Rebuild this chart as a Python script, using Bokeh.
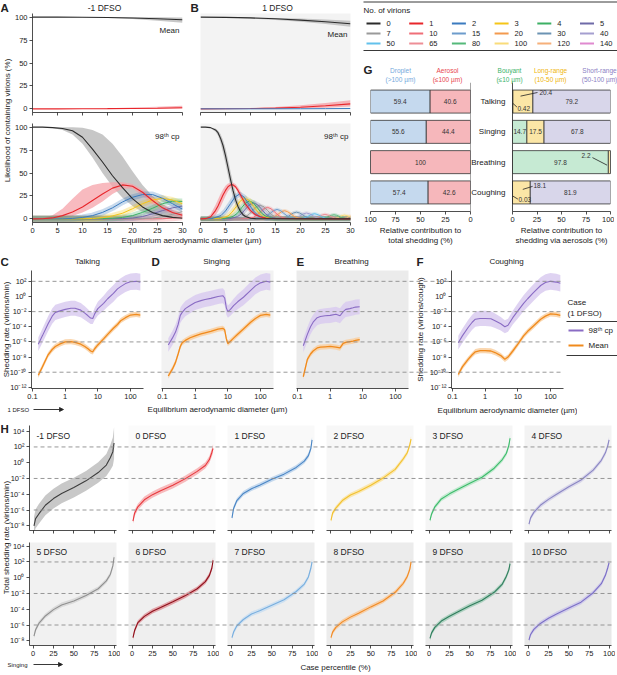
import numpy as np
from math import pi
from bokeh.plotting import figure
from bokeh.models import (Range1d, FactorRange, FixedTicker, CustomJSTickFormatter,
                          Span, Label, Arrow, NormalHead, ColumnDataSource)
from bokeh.embed import file_html
from bokeh.resources import INLINE
from bokeh.core.properties import value

FONT = "Liberation Sans"
INK = "#222222"

# ============================ DATA ============================
# ---- legend: number of virions
virion_counts = [0, 1, 2, 3, 4, 5, 7, 10, 15, 20, 30, 40, 50, 65, 80, 100, 120, 140]
virion_colors = ["#2b2b2b", "#e8262b", "#3b7bbf", "#f5c518", "#3cb064", "#6f6aa8",
                 "#9a9a9a", "#ef6f78", "#6d9ccc", "#f39a4e", "#6c93b3", "#a59fd0",
                 "#62c1ec", "#ee8f97", "#55b97a", "#f9dc7a", "#f6b07a", "#e08ad0"]

# ---- A/B  Mean case: likelihood (%) vs diameter (um)
mean_diam = [0, 5, 10, 15, 20, 25, 30]
a_mean_n0 = [100, 100, 99.9, 99.6, 99.1, 98.3, 97.2]
a_mean_n0_lo = [100, 99.9, 99.6, 99.0, 97.9, 96.2, 94.0]
a_mean_n0_hi = [100, 100, 100, 100, 99.9, 99.8, 99.6]
a_mean_n1 = [0, 0, 0.05, 0.2, 0.4, 0.7, 1.2]
a_mean_n1_lo = [0, 0, 0, 0.05, 0.1, 0.2, 0.4]
a_mean_n1_hi = [0, 0.05, 0.3, 0.7, 1.4, 2.4, 3.5]
b_mean_n0 = [100, 99.8, 99.2, 98.3, 96.8, 95.0, 92.8]
b_mean_n0_lo = [100, 99.6, 98.6, 97.0, 95.0, 92.5, 89.5]
b_mean_n0_hi = [100, 100, 99.7, 99.2, 98.5, 97.5, 96.0]
b_mean_n1 = [0, 0.05, 0.3, 0.8, 1.8, 3.3, 5.4]
b_mean_n1_lo = [0, 0, 0.05, 0.2, 0.6, 1.3, 2.5]
b_mean_n1_hi = [0, 0.2, 0.8, 2.0, 4.0, 6.5, 9.5]
b_mean_n2 = [0, 0, 0, 0.05, 0.1, 0.2, 0.35]

# ---- A  98th cp (-1 DFSO)
a_diam = [0, 2, 4, 6, 8, 10, 12, 14, 16, 18, 20, 22, 24, 26, 28, 30]
a98_n0 = [100, 100, 99.5, 98.5, 96, 89, 76, 62, 47, 34, 22, 13, 7, 3.5, 1.6, 0.7]
a98_n0_lo = [100, 100, 99, 97, 92, 82, 67, 50, 35, 23, 14, 7.5, 3.8, 1.8, 0.8, 0.3]
a98_n0_hi = [100, 100, 100, 100, 100, 99.5, 97, 92, 82, 68, 52, 37, 25, 16, 9, 5]
a98_n1 = [0, 0.1, 1, 3.5, 7.5, 13, 20, 27, 33.5, 37, 35.5, 29, 20, 12, 7, 4]
a98_n1_lo = [0, 0, 0.2, 1, 3, 7, 12, 19, 27, 33, 33, 25, 16, 9, 5, 2.5]
a98_n1_hi = [0, 1, 4, 11, 22, 32, 37, 39, 40, 40, 38, 32, 24, 16, 10, 6.5]
a98_n2 = [0, 0, 0, 0.1, 0.4, 1.5, 3.5, 7, 12, 18.4, 23.5, 26.5, 26.5, 22.4, 16.5, 10.5]
a98_n3 = [0, 0, 0, 0, 0, 0.1, 0.4, 1.2, 3.2, 6.1, 11, 16.5, 20.5, 22.4, 20.5, 16.5]
a98_n4 = [0, 0, 0, 0, 0, 0, 0.1, 0.2, 0.6, 1.5, 3.5, 7, 11.5, 16.5, 19.3, 19]
a98_n5 = [0, 0, 0, 0, 0, 0, 0, 0, 0.1, 0.3, 0.8, 2.5, 5.5, 9, 12, 14]
a98_n7 = [0, 0, 0, 0, 0, 0, 0, 0, 0, 0, 0.1, 0.3, 0.9, 2.2, 5, 8]
a98_n10 = [0, 0, 0, 0, 0, 0, 0, 0, 0, 0, 0, 0, 0, 0.2, 0.7, 1.8]

# ---- B  98th cp (1 DFSO)
b98_n0_x = [0, 1, 2, 3, 3.5, 4, 4.5, 5, 5.5, 6, 6.5, 7, 7.5, 8, 8.5, 9, 10, 11, 30]
b98_n0 = [100, 100, 99.5, 97, 94, 88, 80, 69, 56, 43, 31, 21, 13.5, 8, 4.5, 2.5, 0.7, 0.2, 0]
b98_n0_lo = [100, 100, 99, 95, 91, 83, 72, 60, 47, 34, 23, 14.5, 8.5, 4.5, 2.5, 1.2, 0.3, 0.1, 0]
b98_n0_hi = [100, 100, 100, 98.5, 96.5, 92.5, 86, 77, 65, 52, 40, 29, 20, 13, 8, 5, 1.5, 0.5, 0]
b98_n1_x = [0, 1, 2, 3, 3.5, 4, 4.5, 5, 5.5, 6, 6.5, 7, 7.5, 8, 9, 10, 11, 12, 13, 14, 30]
b98_n1 = [0, 0.2, 2, 9, 14, 20, 26, 31, 35, 37, 37, 35, 31, 26, 16, 9, 4.5, 2, 0.8, 0.3, 0]
b98_n1_lo = [0, 0, 0.5, 4, 8, 13, 19, 25, 30, 33.5, 35, 33, 28, 22, 12, 6, 3, 1.2, 0.4, 0.1, 0]
b98_n1_hi = [0, 0.8, 5, 15, 21, 27, 32, 36, 38.5, 39.5, 39.5, 38, 34.5, 30, 20, 12, 6.5, 3, 1.2, 0.5, 0]
b98_n2_x = [0, 2.3, 4.1, 5.0, 6.0, 6.9, 7.8, 8.7, 9.6, 10.6, 11.5, 13.3, 30]
b98_n2 = [0, 0.27, 3.6, 8.6, 16.5, 23.8, 27, 23.8, 16.5, 8.6, 3.6, 0.27, 0]
b98_n3_x = [0, 3.8, 5.5, 6.3, 7.2, 8.0, 8.9, 9.8, 10.6, 11.5, 12.3, 14.0, 30]
b98_n3 = [0, 0.22, 3.0, 7.2, 13.7, 19.7, 22.4, 19.7, 13.7, 7.2, 3.0, 0.22, 0]
b98_n4_x = [0, 4.9, 6.5, 7.4, 8.2, 9.0, 9.8, 10.6, 11.4, 12.2, 13.1, 14.7, 30]
b98_n4 = [0, 0.2, 2.6, 6.2, 11.9, 17.2, 19.5, 17.2, 11.9, 6.2, 2.6, 0.2, 0]
b98_n5_x = [0, 5.9, 7.4, 8.2, 9.0, 9.8, 10.6, 11.4, 12.2, 13.0, 13.8, 15.3, 30]
b98_n5 = [0, 0.18, 2.4, 5.6, 10.7, 15.4, 17.5, 15.4, 10.7, 5.6, 2.4, 0.18, 0]
b98_n7_x = [0, 7.4, 8.9, 9.7, 10.4, 11.2, 11.9, 12.7, 13.4, 14.2, 14.9, 16.4, 30]
b98_n7 = [0, 0.15, 2.0, 4.8, 9.1, 13.1, 14.9, 13.1, 9.1, 4.8, 2.0, 0.15, 0]
b98_n10_x = [0, 9.2, 10.6, 11.3, 12.0, 12.7, 13.4, 14.1, 14.8, 15.5, 16.2, 17.6, 30]
b98_n10 = [0, 0.13, 1.7, 4.0, 7.6, 11.0, 12.5, 11.0, 7.6, 4.0, 1.7, 0.13, 0]
b98_n15_x = [0, 11.3, 12.7, 13.3, 14.0, 14.6, 15.3, 16.0, 16.6, 17.3, 17.9, 19.3, 30]
b98_n15 = [0, 0.1, 1.4, 3.3, 6.2, 9.0, 10.2, 9.0, 6.2, 3.3, 1.4, 0.1, 0]
b98_n20_x = [0, 13.1, 14.3, 14.9, 15.6, 16.2, 16.8, 17.4, 18.1, 18.7, 19.3, 20.6, 30]
b98_n20 = [0, 0.09, 1.2, 2.8, 5.4, 7.8, 8.9, 7.8, 5.4, 2.8, 1.2, 0.09, 0]
b98_n30_x = [0, 15.7, 16.9, 17.5, 18.0, 18.6, 19.2, 19.8, 20.4, 21.0, 21.5, 22.7, 30]
b98_n30 = [0, 0.07, 1.0, 2.3, 4.5, 6.4, 7.3, 6.4, 4.5, 2.3, 1.0, 0.07, 0]
b98_n40_x = [0, 17.8, 19.0, 19.5, 20.1, 20.6, 21.2, 21.8, 22.3, 22.9, 23.4, 24.6, 30]
b98_n40 = [0, 0.06, 0.85, 2.0, 3.8, 5.5, 6.3, 5.5, 3.8, 2.0, 0.85, 0.06, 0]
b98_n50_x = [0, 19.6, 20.6, 21.2, 21.7, 22.3, 22.8, 23.3, 23.9, 24.4, 25.0, 26.0, 30]
b98_n50 = [0, 0.06, 0.76, 1.8, 3.4, 4.9, 5.6, 4.9, 3.4, 1.8, 0.76, 0.06, 0]
b98_n65_x = [0, 21.8, 22.8, 23.4, 23.9, 24.4, 24.9, 25.4, 25.9, 26.5, 27.0, 28.0, 30]
b98_n65 = [0, 0.05, 0.66, 1.6, 3.0, 4.3, 4.9, 4.3, 3.0, 1.6, 0.66, 0.05, 0]
b98_n80_x = [0, 23.7, 24.7, 25.2, 25.7, 26.2, 26.7, 27.2, 27.7, 28.2, 28.7, 29.7, 30]
b98_n80 = [0, 0.04, 0.6, 1.4, 2.7, 3.9, 4.4, 3.9, 2.7, 1.4, 0.6, 0.04, 0]
b98_n100_x = [0, 25.9, 26.9, 27.4, 27.8, 28.3, 28.8, 29.3, 29.8, 30.2, 30.7]
b98_n100 = [0, 0.04, 0.54, 1.3, 2.4, 3.5, 4.0, 3.5, 2.4, 1.3, 0.54]
b98_n120_x = [0, 27.8, 28.7, 29.2, 29.7, 30.1, 30.6]
b98_n120 = [0, 0.04, 0.49, 1.15, 2.2, 3.2, 3.6]
b98_n140_x = [0, 29.0, 30.0, 30.5]
b98_n140 = [0, 0.1, 0.3, 0.6]

# ---- G  relative contributions (%)
g_acts = ["Talking", "Singing", "Breathing", "Coughing"]
g_droplet = [59.4, 55.6, 0, 57.4]
g_aerosol = [40.6, 44.4, 100, 42.6]
g_buoyant = [0.42, 14.7, 97.8, 0.03]
g_long = [20.4, 17.5, 2.2, 18.1]
g_short = [79.2, 67.8, 0, 81.9]

# ---- C-F  shedding rates, log10(virions per min / per cough) vs diameter (um)
c_diam = [0.15, 0.2, 0.3, 0.4, 0.5, 0.7, 1, 1.5, 2, 3, 4, 5, 6, 7, 8, 10, 15, 20, 30, 40, 50, 70, 100, 150, 200]
c_p98 = [-6.3, -5.2, -3.6, -2.6, -2.1, -1.9, -1.7, -1.55, -1.55, -1.8, -2.2, -2.55, -2.85, -2.9, -2.3, -1.6, -0.9, -0.3, 0.4, 1.0, 1.3, 1.7, 1.95, 2.0, 1.9]
c_p98_sd = [0.9, 0.95, 1.0, 1.0, 1.0, 1.0, 1.0, 1.0, 1.0, 0.95, 0.9, 0.85, 0.8, 0.75, 0.8, 0.9, 1.0, 1.05, 1.1, 1.1, 1.1, 1.1, 1.1, 1.1, 1.1]
c_mean = [-10.4, -9.3, -7.7, -7.0, -6.6, -6.25, -6.0, -5.95, -6.05, -6.3, -6.6, -6.9, -7.2, -7.3, -6.9, -6.4, -5.6, -5.0, -4.2, -3.7, -3.2, -2.8, -2.45, -2.35, -2.45]
c_mean_sd = [0.35, 0.35, 0.35, 0.35, 0.35, 0.35, 0.35, 0.35, 0.35, 0.35, 0.35, 0.35, 0.35, 0.35, 0.35, 0.35, 0.35, 0.35, 0.35, 0.35, 0.35, 0.35, 0.35, 0.35, 0.35]
d_diam = [0.15, 0.2, 0.25, 0.3, 0.35, 0.4, 0.5, 0.7, 1, 1.5, 2, 3, 5, 7, 8, 9, 10, 12, 15, 20, 30, 50, 70, 100, 150, 200]
d_p98 = [-6.4, -5.5, -4.7, -3.7, -2.5, -2.1, -1.6, -1.2, -0.8, -0.55, -0.4, -0.25, 0.0, 0.1, -0.2, -1.5, -2.0, -1.7, -1.2, -0.7, -0.1, 0.8, 1.4, 1.8, 2.0, 1.9]
d_p98_sd = [0.9, 0.95, 1.0, 1.0, 1.0, 1.0, 1.0, 1.0, 1.0, 1.0, 1.0, 1.0, 1.0, 1.0, 1.0, 0.9, 0.8, 0.85, 0.9, 1.0, 1.05, 1.1, 1.1, 1.1, 1.1, 1.1]
d_mean = [-10.5, -9.6, -8.7, -7.6, -6.6, -6.1, -5.8, -5.45, -5.2, -4.95, -4.8, -4.6, -4.3, -4.2, -4.4, -5.6, -6.2, -5.9, -5.5, -5.0, -4.3, -3.4, -2.9, -2.5, -2.35, -2.45]
d_mean_sd = [0.35, 0.35, 0.35, 0.35, 0.35, 0.35, 0.35, 0.35, 0.35, 0.35, 0.35, 0.35, 0.35, 0.35, 0.35, 0.35, 0.35, 0.35, 0.35, 0.35, 0.35, 0.35, 0.35, 0.35, 0.35, 0.35]
e_diam = [0.15, 0.2, 0.25, 0.3, 0.4, 0.5, 0.7, 1, 1.5, 2, 2.5, 3, 4, 5, 6, 8]
e_p98 = [-6.5, -5.0, -4.0, -3.4, -2.8, -2.65, -2.55, -2.5, -2.35, -2.55, -2.0, -1.7, -1.6, -1.5, -1.4, -1.35]
e_p98_sd = [0.9, 0.95, 1.0, 1.0, 1.0, 1.0, 1.0, 1.0, 1.0, 1.0, 1.0, 1.0, 1.0, 1.0, 1.0, 1.0]
e_mean = [-10.6, -8.3, -7.6, -7.2, -6.8, -6.7, -6.65, -6.6, -6.7, -6.8, -6.2, -6.05, -5.95, -5.9, -5.8, -5.7]
e_mean_sd = [0.35, 0.35, 0.35, 0.35, 0.35, 0.35, 0.35, 0.35, 0.35, 0.35, 0.35, 0.35, 0.35, 0.35, 0.35, 0.35]
f_diam = [0.15, 0.2, 0.3, 0.4, 0.5, 0.7, 1, 1.5, 2, 3, 4, 5, 7, 10, 15, 20, 30, 50, 70, 100, 150, 200]
f_p98 = [-6.1, -5.2, -4.1, -3.4, -3.0, -2.9, -2.9, -2.95, -3.2, -3.6, -4.0, -3.8, -2.8, -1.9, -0.9, -0.3, 0.5, 1.45, 1.85, 2.0, 1.9, 1.75]
f_p98_sd = [0.9, 0.95, 1.0, 1.0, 1.0, 1.0, 1.0, 1.0, 0.95, 0.9, 0.85, 0.85, 0.9, 1.0, 1.05, 1.1, 1.1, 1.1, 1.1, 1.1, 1.1, 1.1]
f_mean = [-10.3, -9.3, -8.3, -7.7, -7.3, -7.15, -7.15, -7.2, -7.4, -7.8, -8.3, -8.0, -7.2, -6.3, -5.2, -4.6, -3.9, -3.0, -2.6, -2.3, -2.35, -2.5]
f_mean_sd = [0.35, 0.35, 0.35, 0.35, 0.35, 0.35, 0.35, 0.35, 0.35, 0.35, 0.35, 0.35, 0.35, 0.35, 0.35, 0.35, 0.35, 0.35, 0.35, 0.35, 0.35, 0.35]

# ---- H  total shedding rate, log10(virions/min) vs case percentile (%)
h_pct = [1, 3, 7, 15, 25, 35, 50, 65, 80, 90, 95, 98, 99.5]
h_dfso = [-1, 0, 1, 2, 3, 4, 5, 6, 7, 8, 9, 10]
h_rate_m1 = [-8.0, -7.1, -6.5, -5.4, -4.55, -3.9, -3.15, -2.3, -1.25, -0.3, 0.67, 1.4, 2.5]
h_rate_0 = [-7.4, -6.4, -5.6, -4.7, -4.05, -3.55, -2.87, -2.05, -1.1, -0.35, 0.4, 1.3, 1.8]
h_rate_1 = [-7.0, -5.8, -4.8, -3.9, -3.3, -2.85, -2.1, -1.45, -0.6, 0.2, 0.9, 1.8, 2.9]
h_rate_2 = [-7.3, -6.4, -5.75, -4.8, -4.1, -3.65, -2.85, -1.95, -0.85, 0.5, 1.3, 2.3, 3.0]
h_rate_3 = [-7.3, -6.5, -5.6, -4.6, -3.95, -3.4, -2.6, -1.85, -0.7, 0.4, 1.2, 2.2, 3.1]
h_rate_4 = [-7.8, -7.0, -6.3, -5.4, -4.65, -4.0, -3.05, -2.2, -0.95, 0.3, 1.25, 2.2, 2.9]
h_rate_5 = [-7.4, -6.6, -5.8, -4.85, -4.05, -3.45, -2.95, -2.25, -1.4, -0.4, 0.45, 1.5, 2.6]
h_rate_6 = [-7.6, -6.7, -5.7, -4.9, -4.25, -3.78, -3.05, -2.3, -1.4, -0.5, 0.3, 1.2, 2.2]
h_rate_7 = [-7.6, -6.9, -6.1, -5.3, -4.6, -4.2, -3.5, -2.8, -1.75, -0.8, 0.1, 1.2, 2.0]
h_rate_8 = [-7.6, -6.9, -6.3, -5.6, -5.0, -4.5, -3.7, -2.95, -1.85, -0.7, 0.2, 1.1, 2.0]
h_rate_9 = [-7.7, -7.0, -6.3, -5.5, -4.9, -4.35, -3.55, -2.85, -1.85, -0.8, 0.2, 1.0, 1.8]
h_rate_10 = [-7.9, -7.2, -6.55, -5.8, -5.15, -4.6, -3.85, -3.1, -1.9, -0.75, 0.3, 1.3, 1.9]
h_sd_m1 = [1.1, 1.2, 1.25, 1.25, 1.25, 1.25, 1.25, 1.25, 1.3, 1.4, 1.6, 1.8, 2.0]
h_sd_0 = [0.35, 0.4, 0.4, 0.4, 0.4, 0.4, 0.4, 0.4, 0.4, 0.4, 0.45, 0.5, 0.55]
h_sd_other = [0.3, 0.3, 0.3, 0.3, 0.3, 0.3, 0.3, 0.3, 0.3, 0.3, 0.32, 0.35, 0.4]

# ============================ STYLE ============================
h_line_colors = ["#3d3d3d", "#e8383d", "#4a86c5", "#f2c12e", "#3dbb6b", "#8b86c3",
                 "#8f8f8f", "#8e0f1a", "#78aede", "#f08a24", "#2f7d5c", "#7b6fc6"]
h_band_colors = ["#b5b5b5", "#f5a5a8", "#b3cde9", "#fbe19a", "#b2e5c4", "#d0cde7",
                 "#d2d2d2", "#de8b92", "#c4dcf2", "#f9c692", "#9ccab4", "#c8c2eb"]
h_bg_colors = [None, "#fbfbfb", "#f9f9f9", "#f7f7f7", "#f5f5f5", "#f3f3f3",
               "#f1f1f1", "#efefef", "#eeeeee", "#ececec", "#eaeaea", "#e8e8e8"]
P98_LINE, P98_BAND = "#8a6cc4", "#d9cbf0"
MEAN_LINE, MEAN_BAND = "#f08a1c", "#f9d0a2"
G_FILL = {"droplet": "#c5d9ee", "aerosol": "#f6b7bb", "buoyant": "#c6ead3",
          "long": "#fbe6a6", "short": "#d8d6ea"}
G_HEAD = {"droplet": "#74a9dc", "aerosol": "#e8464e", "buoyant": "#3db36a",
          "long": "#efb50c", "short": "#8a80c4"}

roots = []

SUP_FMT = CustomJSTickFormatter(code="""
const s = {"-": "\u207b", "0": "\u2070", "1": "\u00b9", "2": "\u00b2", "3": "\u00b3",
           "4": "\u2074", "5": "\u2075", "6": "\u2076", "7": "\u2077", "8": "\u2078", "9": "\u2079"};
const e = Math.round(Math.log10(tick));
return "10" + String(e).split("").map((c) => s[c]).join("");
""")
DIAM_FMT = CustomJSTickFormatter(code="return tick < 1 ? tick.toFixed(1) : tick.toFixed(0);")
BLANK_FMT = CustomJSTickFormatter(code="return '';")


def style_axis(ax):
    ax.axis_line_color = INK
    ax.axis_line_width = 0.8
    ax.major_tick_line_color = INK
    ax.major_tick_line_width = 0.8
    ax.major_tick_in = 0
    ax.major_tick_out = 3
    ax.minor_tick_line_color = None
    ax.major_label_text_font = FONT
    ax.major_label_text_font_size = "7.5px"
    ax.major_label_text_color = INK
    ax.major_label_standoff = 2
    ax.axis_label_text_font = FONT
    ax.axis_label_text_font_size = "8px"
    ax.axis_label_text_font_style = "normal"
    ax.axis_label_text_color = INK
    ax.axis_label_standoff = 3


def panel(fx, fy, fw, fh, xr, yr, bg=None, x_log=False, y_log=False,
          xloc="below", yloc="left", ml=48, mr=14, mt=14, mb=34):
    p = figure(width=fw + ml + mr, height=fh + mt + mb, x_range=xr, y_range=yr,
               x_axis_type="log" if x_log else "auto",
               y_axis_type="log" if y_log else "auto",
               x_axis_location=xloc, y_axis_location=yloc,
               toolbar_location=None, output_backend="svg",
               min_border_left=ml, min_border_right=mr,
               min_border_top=mt, min_border_bottom=mb,
               background_fill_color=bg, border_fill_color=None,
               outline_line_color=None)
    p.styles = {"position": "absolute", "left": f"{fx - ml}px", "top": f"{fy - mt}px"}
    p.grid.visible = False
    for ax in p.axis:
        style_axis(ax)
    roots.append(p)
    return p


# ============================ A / B ============================
def prob_panel(fx, fy, bg, show_y, show_xlabels):
    p = panel(fx, fy, 150, 99, Range1d(0, 30), Range1d(-4, 104), bg=bg,
              yloc="left" if show_y else None)
    p.xaxis.ticker = FixedTicker(ticks=[0, 5, 10, 15, 20, 25, 30])
    if show_y:
        p.yaxis.ticker = FixedTicker(ticks=[0, 25, 50, 75, 100])
    if not show_xlabels:
        p.xaxis.formatter = BLANK_FMT
    return p


A_mean = prob_panel(32, 13, None, True, False)
A_98 = prob_panel(32, 123, None, True, True)
B_mean = prob_panel(200, 13, "#f3f3f3", False, False)
B_98 = prob_panel(200, 123, "#f3f3f3", False, True)

GRAY_BAND, PINK_BAND = "#bdbdbd", "#f5a3a9"
for p, n0, lo0, hi0, n1, lo1, hi1 in [
        (A_mean, a_mean_n0, a_mean_n0_lo, a_mean_n0_hi, a_mean_n1, a_mean_n1_lo, a_mean_n1_hi),
        (B_mean, b_mean_n0, b_mean_n0_lo, b_mean_n0_hi, b_mean_n1, b_mean_n1_lo, b_mean_n1_hi)]:
    p.varea(x=mean_diam, y1=lo0, y2=hi0, color=GRAY_BAND, alpha=0.85)
    p.varea(x=mean_diam, y1=lo1, y2=hi1, color=PINK_BAND, alpha=0.8)
    p.line(mean_diam, n1, color=virion_colors[1], line_width=1.1)
    p.line(mean_diam, n0, color=virion_colors[0], line_width=1.1)
B_mean.line(mean_diam, b_mean_n2, color=virion_colors[2], line_width=1)

# A 98th cp
A_98.varea(x=a_diam, y1=a98_n0_lo, y2=a98_n0_hi, color=GRAY_BAND, alpha=0.85)
A_98.varea(x=a_diam, y1=a98_n1_lo, y2=a98_n1_hi, color=PINK_BAND, alpha=0.75)
a_other = [(10, a98_n10), (7, a98_n7), (5, a98_n5), (4, a98_n4), (3, a98_n3), (2, a98_n2)]
for k, ys in a_other:
    c = virion_colors[virion_counts.index(k)]
    A_98.line(a_diam, ys, color=c, line_width=6, alpha=0.28)
for k, ys in a_other:
    c = virion_colors[virion_counts.index(k)]
    A_98.line(a_diam, ys, color=c, line_width=1)
A_98.line(a_diam, a98_n1, color=virion_colors[1], line_width=1.1)
A_98.line(a_diam, a98_n0, color=virion_colors[0], line_width=1.1)

# B 98th cp
B_98.varea(x=b98_n0_x, y1=b98_n0_lo, y2=b98_n0_hi, color=GRAY_BAND, alpha=0.85)
B_98.varea(x=b98_n1_x, y1=b98_n1_lo, y2=b98_n1_hi, color=PINK_BAND, alpha=0.75)
b_other = [(140, b98_n140_x, b98_n140), (120, b98_n120_x, b98_n120), (100, b98_n100_x, b98_n100),
           (80, b98_n80_x, b98_n80), (65, b98_n65_x, b98_n65), (50, b98_n50_x, b98_n50),
           (40, b98_n40_x, b98_n40), (30, b98_n30_x, b98_n30), (20, b98_n20_x, b98_n20),
           (15, b98_n15_x, b98_n15), (10, b98_n10_x, b98_n10), (7, b98_n7_x, b98_n7),
           (5, b98_n5_x, b98_n5), (4, b98_n4_x, b98_n4), (3, b98_n3_x, b98_n3),
           (2, b98_n2_x, b98_n2)]
for k, xs, ys in b_other:
    c = virion_colors[virion_counts.index(k)]
    B_98.line(xs, ys, color=c, line_width=5 if k <= 5 else 3.5, alpha=0.25)
for k, xs, ys in b_other:
    c = virion_colors[virion_counts.index(k)]
    B_98.line(xs, ys, color=c, line_width=1)
B_98.line(b98_n1_x, b98_n1, color=virion_colors[1], line_width=1.1)
B_98.line(b98_n0_x, b98_n0, color=virion_colors[0], line_width=1.1)

# ============================ G ============================
acts_rev = list(reversed(g_acts))
g_src = ColumnDataSource(dict(act=g_acts, droplet=g_droplet, aerosol=g_aerosol,
                              buoyant=g_buoyant, long=g_long, short=g_short))
GL = panel(370, 82, 100, 129, Range1d(100, 0),
           FactorRange(factors=acts_rev, range_padding=0.13, range_padding_units="absolute"),
           yloc=None, mr=10)
GL.xaxis.ticker = FixedTicker(ticks=[0, 25, 50, 75, 100])
GL.add_layout(Span(location=0, dimension="height", line_color=INK, line_width=0.8))
GL.hbar_stack(["aerosol", "droplet"], y="act", height=0.76,
              fill_color=[G_FILL["aerosol"], G_FILL["droplet"]],
              line_color="#333333", line_width=0.8, source=g_src)
gl_x, gl_y, gl_t = [], [], []
for a, ae, dr in zip(g_acts, g_aerosol, g_droplet):
    if ae > 0:
        gl_x.append(ae / 2); gl_y.append(a); gl_t.append(f"{ae:g}")
    if dr > 0:
        gl_x.append(ae + dr / 2); gl_y.append(a); gl_t.append(f"{dr:g}")
GL.text(x=gl_x, y=gl_y, text=gl_t, text_align="center", text_baseline="middle",
        text_font=value(FONT), text_font_size="6.5px", text_color="#333333")

GR = panel(512, 82, 98, 129, Range1d(0, 100),
           FactorRange(factors=acts_rev, range_padding=0.13, range_padding_units="absolute"),
           mr=4, ml=60)
GR.xaxis.ticker = FixedTicker(ticks=[0, 25, 50, 75, 100])
GR.yaxis.major_tick_out = 0
GR.yaxis.major_label_standoff = 7
GR.yaxis.major_label_text_font_size = "8px"
GR.hbar_stack(["buoyant", "long", "short"], y="act", height=0.76,
              fill_color=[G_FILL["buoyant"], G_FILL["long"], G_FILL["short"]],
              line_color="#333333", line_width=0.8, source=g_src)
inline = [("Talking", "short"), ("Singing", "buoyant"), ("Singing", "long"),
          ("Singing", "short"), ("Breathing", "buoyant"), ("Coughing", "short")]
segs = {"buoyant": g_buoyant, "long": g_long, "short": g_short}
order = ["buoyant", "long", "short"]
gr_x, gr_y, gr_t = [], [], []
for act, key in inline:
    i = g_acts.index(act)
    start = sum(segs[o][i] for o in order[:order.index(key)])
    gr_x.append(start + segs[key][i] / 2); gr_y.append(act); gr_t.append(f"{segs[key][i]:g}")
GR.text(x=gr_x, y=gr_y, text=gr_t, text_align="center", text_baseline="middle",
        text_font=value(FONT), text_font_size="6.5px", text_color="#333333")
# call-outs for thin segments: (activity, segment, label x, label dy, align, leader x0, dy0, x1, dy1)
callouts = [("Talking", "long", 27.5, 0.30, "left", 8.2, 0.18, 25.5, 0.30),
            ("Talking", "buoyant", 5.0, -0.22, "left", 0.4, -0.06, 4.5, -0.18),
            ("Breathing", "long", 79.6, 0.21, "right", 81.6, 0.15, 96.5, -0.10),
            ("Coughing", "long", 21.4, 0.22, "left", 10.5, 0.10, 20.5, 0.20),
            ("Coughing", "buoyant", 6.1, -0.24, "left", 0.3, -0.12, 5.5, -0.22)]
for act, key, lx, ldy, al, x0, dy0, x1, dy1 in callouts:
    i = g_acts.index(act)
    GR.segment(x0=[x0], y0=[(act, dy0)], x1=[x1], y1=[(act, dy1)], line_color=INK, line_width=0.8)
    GR.text(x=[lx], y=[(act, ldy)], text=[f"{segs[key][i]:g}"], text_align=al,
            text_baseline="middle", text_font=value(FONT), text_font_size="6.5px",
            text_color="#333333")

# ============================ C - F ============================
CF_YR = (10 ** -12.15, 10 ** 3.43)
cf_specs = [(31, None, True, c_diam, c_p98, c_p98_sd, c_mean, c_mean_sd),
            (161, "#f2f2f2", False, d_diam, d_p98, d_p98_sd, d_mean, d_mean_sd),
            (296, "#ebebeb", False, e_diam, e_p98, e_p98_sd, e_mean, e_mean_sd),
            (451, None, True, f_diam, f_p98, f_p98_sd, f_mean, f_mean_sd)]
cf_panels = []
for fx, bg, show_y, dm, p98, p98sd, mn, mnsd in cf_specs:
    p = panel(fx, 270, 112, 118, Range1d(0.093, 250), Range1d(*CF_YR), bg=bg,
              x_log=True, y_log=True, yloc="left" if show_y else None, ml=50)
    p.xaxis.ticker = FixedTicker(ticks=[0.1, 1, 10, 100])
    p.xaxis.formatter = DIAM_FMT
    if show_y:
        p.yaxis.ticker = FixedTicker(ticks=[1e2, 1e0, 1e-2, 1e-4, 1e-6, 1e-8, 1e-10, 1e-12])
        p.yaxis.formatter = SUP_FMT
    dm_a = np.array(dm)
    p98_a, p98sd_a = np.array(p98), np.array(p98sd)
    mn_a, mnsd_a = np.array(mn), np.array(mnsd)
    p.varea(x=dm_a, y1=10 ** (p98_a - p98sd_a), y2=10 ** (p98_a + p98sd_a), color=P98_BAND, alpha=0.85)
    p.varea(x=dm_a, y1=10 ** (mn_a - mnsd_a), y2=10 ** (mn_a + mnsd_a), color=MEAN_BAND, alpha=0.85)
    p.line(dm_a, 10 ** p98_a, color=P98_LINE, line_width=1.1)
    p.line(dm_a, 10 ** mn_a, color=MEAN_LINE, line_width=1.3)
    cf_panels.append(p)
cf_panels[3].yaxis.axis_label = "Shedding rate (virions/cough)"
cf_panels[3].yaxis.axis_label_standoff = 2
cf_panels[3].xaxis.axis_label = "Equilibrium aerodynamic diameter (\u00b5m)"
cf_panels[3].xaxis.axis_label_standoff = 4

cf_dash = panel(31, 270, 532, 118, Range1d(0, 1), Range1d(*CF_YR), y_log=True,
                xloc=None, yloc=None, ml=2, mr=2, mt=2, mb=2)
for v in [1e2, 1e-2, 1e-6, 1e-10]:
    cf_dash.add_layout(Span(location=v, dimension="width", line_color="#8c8c8c",
                            line_dash="4 3", line_width=0.9))

# ============================ H ============================
h_rates = [h_rate_m1, h_rate_0, h_rate_1, h_rate_2, h_rate_3, h_rate_4,
           h_rate_5, h_rate_6, h_rate_7, h_rate_8, h_rate_9, h_rate_10]
h_sds = [h_sd_m1, h_sd_0] + [h_sd_other] * 10
H_YR = [(10 ** -8.6, 10 ** 4.72), (10 ** -8.6, 10 ** 4.47)]
H_TOP = [425, 542]
H_H = [105, 103]
for i, d in enumerate(h_dfso):
    row, col = divmod(i, 6)
    p = panel(29 + 99 * col, H_TOP[row], 87, H_H[row], Range1d(-4.5, 102.5),
              Range1d(*H_YR[row]), bg=h_bg_colors[i], y_log=True,
              yloc="left" if col == 0 else None, mr=4, mb=26)
    p.xaxis.ticker = FixedTicker(ticks=[0, 25, 50, 75, 100])
    if row == 0:
        p.xaxis.formatter = BLANK_FMT
    if col == 0:
        p.yaxis.ticker = FixedTicker(ticks=[1e4, 1e2, 1e0, 1e-2, 1e-4, 1e-6, 1e-8])
        p.yaxis.formatter = SUP_FMT
    r = np.array(h_rates[i]); s = np.array(h_sds[i])
    p.varea(x=h_pct, y1=10 ** (r - s), y2=10 ** (r + s), color=h_band_colors[i], alpha=0.75)
    p.line(h_pct, 10 ** r, color=h_line_colors[i], line_width=1.1)

for row in range(2):
    hd = panel(33, H_TOP[row], 579, H_H[row], Range1d(0, 1), Range1d(*H_YR[row]),
               y_log=True, xloc=None, yloc=None, ml=2, mr=2, mt=2, mb=2)
    for v in [1e2, 1e-2, 1e-6]:
        hd.add_layout(Span(location=v, dimension="width", line_color="#8c8c8c",
                           line_dash="4 3", line_width=0.9))

# ============================ OVERLAY (texts, legends) ============================
ov = figure(width=617, height=675, x_range=Range1d(0, 617), y_range=Range1d(675, 0),
            toolbar_location=None, output_backend="svg", min_border=0,
            x_axis_location=None, y_axis_location=None,
            background_fill_color=None, border_fill_color=None, outline_line_color=None)
ov.styles = {"position": "absolute", "left": "0px", "top": "0px"}
ov.grid.visible = False


def txt(x, y, s, size="8px", align="left", color=INK, bold=False, angle=0.0):
    ov.add_layout(Label(x=x, y=y, text=s, text_font=FONT, text_font_size=size,
                        text_align=align, text_baseline="middle", text_color=color,
                        text_font_style="bold" if bold else "normal", angle=angle))


def rule(x0, x1, y):
    ov.segment(x0=[x0], y0=[y], x1=[x1], y1=[y], line_color=INK, line_width=0.9)


def arrow(x0, x1, y):
    ov.add_layout(Arrow(end=NormalHead(size=4, line_color=INK, fill_color=INK, line_width=0.8),
                        x_start=x0, y_start=y, x_end=x1, y_end=y,
                        line_color=INK, line_width=0.9))


# panel letters
for s, x, y in [("A", 0, 7), ("B", 190, 7), ("G", 363, 69), ("C", 0, 261), ("D", 151, 261),
                ("E", 296, 261), ("F", 416, 261), ("H", 0, 428)]:
    txt(x, y, s, "11.5px", bold=True)

# A/B texts
txt(104, 7, "-1 DFSO", "8.5px", "center")
txt(277, 7, "1 DFSO", "8.5px", "center")
txt(179, 30, "Mean", "8px", "right")
txt(347, 34, "Mean", "8px", "right")
txt(179, 136, "98\u1d57\u02b0 cp", "8px", "right")
txt(348, 136, "98\u1d57\u02b0 cp", "8px", "right")
txt(7, 120, "Likelihood of containing virions (%)", "8px", "center", angle=pi / 2)
txt(191, 240, "Equilibrium aerodynamic diameter (\u00b5m)", "8px", "center")

# legend: number of virions
txt(363, 10, "No. of virions", "8px")
rule(363, 617, 1.5)
rule(363, 617, 50)
lx = [366 + 42.7 * (i % 6) for i in range(len(virion_counts))]
ly = [23 + 10 * (i // 6) for i in range(len(virion_counts))]
ov.segment(x0=lx, y0=ly, x1=[v + 14 for v in lx], y1=ly, line_color=virion_colors, line_width=2)
ov.text(x=[v + 20 for v in lx], y=ly, text=[str(c) for c in virion_counts],
        text_font=value(FONT), text_font_size="7.5px", text_baseline="middle", text_color=INK)

# G headers & axis labels
for key, cx, l1, l2 in [("droplet", 400, "Droplet", "(>100 \u00b5m)"),
                        ("aerosol", 447, "Aerosol", "(\u2264100 \u00b5m)"),
                        ("buoyant", 509, "Bouyant", "(\u226410 \u00b5m)"),
                        ("long", 550, "Long-range", "(10-50 \u00b5m)"),
                        ("short", 599, "Short-range", "(50-100 \u00b5m)")]:
    txt(cx, 70, l1, "6.5px", "center", G_HEAD[key])
    txt(cx, 79, l2, "6.5px", "center", G_HEAD[key])
txt(420, 230, "Relative contribution to", "8px", "center")
txt(420, 240, "total shedding (%)", "8px", "center")
txt(561, 230, "Relative contribution to", "8px", "center")
txt(561, 240, "shedding via aerosols (%)", "8px", "center")

# C-F texts
for s, x in [("Talking", 87), ("Singing", 216), ("Breathing", 351), ("Coughing", 506)]:
    txt(x, 261, s, "8px", "center")
txt(6, 329, "Shedding rate (virions/min)", "8px", "center", angle=pi / 2)
txt(217, 409, "Equilibrium aerodynamic diameter (\u00b5m)", "8px", "center")
txt(7, 409, "1 DFSO", "6px")
arrow(33, 63, 409)
# case legend
txt(567, 302, "Case", "8px")
txt(567, 313, "(1 DFSO)", "8px")
rule(566, 617, 321)
rule(566, 617, 355)
ov.segment(x0=[568, 568], y0=[330, 345], x1=[583, 583], y1=[330, 345],
           line_color=[P98_LINE, MEAN_LINE], line_width=2)
txt(588, 330, "98\u1d57\u02b0 cp", "8px")
txt(588, 345, "Mean", "8px")

# H texts
for i, d in enumerate(h_dfso):
    row, col = divmod(i, 6)
    txt(36 + 99 * col, 435 if row == 0 else 551, f"{d} DFSO", "8.5px")
txt(6, 537, "Total shedding rate (virions/min)", "8px", "center", angle=pi / 2)
txt(335, 667, "Case percentile (%)", "8px", "center")
txt(7, 664, "Singing", "6px")
arrow(33, 62, 664)

roots.append(ov)

open("out.html", "w").write(file_html(roots, INLINE, title="Virion shedding"))
